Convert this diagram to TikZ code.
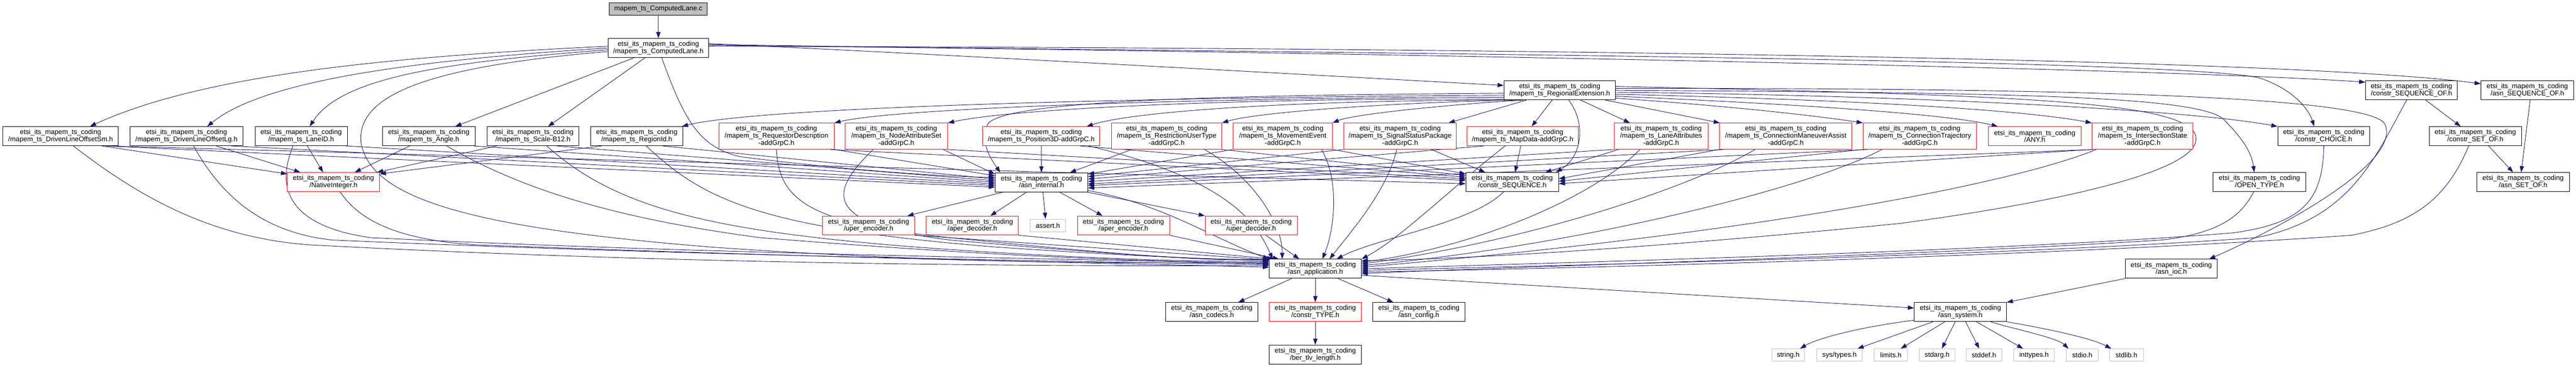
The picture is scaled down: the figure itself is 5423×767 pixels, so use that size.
\documentclass[tikz,border=0pt]{standalone}
\usepackage{fontspec}
\setmainfont{Liberation Sans}
\usetikzlibrary{arrows.meta}
\definecolor{edgec}{HTML}{191970}
\definecolor{redc}{HTML}{FF0000}
\definecolor{grayb}{HTML}{BFBFBF}
\pgfdeclarelayer{bg}
\pgfsetlayers{bg,main}
\tikzset{
  box/.style={draw=black, line width=1bp, fill=white, rectangle, inner sep=0pt, align=center,
              font=\fontsize{14.5}{15}\selectfont, text=black, minimum height=40bp},
  rbox/.style={box, draw=redc},
  gbox/.style={box, draw=grayb, minimum height=26bp},
  cbox/.style={box, fill=grayb, minimum height=26bp},
  tall/.style={minimum height=55bp},
  ed/.style={draw=edgec, line width=1bp, -{Triangle[length=13bp,width=9bp]}},
}
\begin{document}
\begin{tikzpicture}[x=1bp,y=-1bp]
\useasboundingbox (0,0) rectangle (5423,767);
% ---------- nodes ----------
\node[cbox, minimum width=206bp] (c) at (1386,19) {mapem\_ts\_ComputedLane.c};
\node[box, minimum width=212bp] (CLh) at (1386,101) {etsi\_its\_mapem\_ts\_coding\\/mapem\_ts\_ComputedLane.h};
\node[box, minimum width=235bp] (RegExt) at (3283.5,190) {etsi\_its\_mapem\_ts\_coding\\/mapem\_ts\_RegionalExtension.h};
\node[box, minimum width=193bp] (cSeqOf) at (5076.5,190) {etsi\_its\_mapem\_ts\_coding\\/constr\_SEQUENCE\_OF.h};
\node[box, minimum width=195bp] (aSeqOf) at (5320.5,190) {etsi\_its\_mapem\_ts\_coding\\/asn\_SEQUENCE\_OF.h};
% row 4
\node[box, minimum width=243bp] (DLOSm) at (127.5,286.5) {etsi\_its\_mapem\_ts\_coding\\/mapem\_ts\_DrivenLineOffsetSm.h};
\node[box, minimum width=237bp] (DLOLg) at (392.5,286.5) {etsi\_its\_mapem\_ts\_coding\\/mapem\_ts\_DrivenLineOffsetLg.h};
\node[box, minimum width=194bp] (LaneID) at (634,286.5) {etsi\_its\_mapem\_ts\_coding\\/mapem\_ts\_LaneID.h};
\node[box, minimum width=195bp] (Angle) at (902.5,286.5) {etsi\_its\_mapem\_ts\_coding\\/mapem\_ts\_Angle.h};
\node[box, minimum width=194bp] (ScaleB12) at (1122,286.5) {etsi\_its\_mapem\_ts\_coding\\/mapem\_ts\_Scale-B12.h};
\node[box, minimum width=195bp] (RegionId) at (1340.5,286.5) {etsi\_its\_mapem\_ts\_coding\\/mapem\_ts\_RegionId.h};
\node[rbox, tall, minimum width=243bp] (ReqDesc) at (1634.5,286.5) {etsi\_its\_mapem\_ts\_coding\\/mapem\_ts\_RequestorDescription\\-addGrpC.h};
\node[rbox, tall, minimum width=216bp] (NodeAttr) at (1887,286.5) {etsi\_its\_mapem\_ts\_coding\\/mapem\_ts\_NodeAttributeSet\\-addGrpC.h};
\node[rbox, minimum width=246bp] (Pos3D) at (2192,286.5) {etsi\_its\_mapem\_ts\_coding\\/mapem\_ts\_Position3D-addGrpC.h};
\node[rbox, tall, minimum width=232bp] (RestrUser) at (2456,286.5) {etsi\_its\_mapem\_ts\_coding\\/mapem\_ts\_RestrictionUserType\\-addGrpC.h};
\node[rbox, tall, minimum width=209bp] (MovEvent) at (2700.5,286.5) {etsi\_its\_mapem\_ts\_coding\\/mapem\_ts\_MovementEvent\\-addGrpC.h};
\node[rbox, tall, minimum width=237bp] (SigStatus) at (2947.5,286.5) {etsi\_its\_mapem\_ts\_coding\\/mapem\_ts\_SignalStatusPackage\\-addGrpC.h};
\node[rbox, minimum width=235bp] (MapData) at (3205.5,286.5) {etsi\_its\_mapem\_ts\_coding\\/mapem\_ts\_MapData-addGrpC.h};
\node[rbox, tall, minimum width=198bp] (LaneAttr) at (3497,286.5) {etsi\_its\_mapem\_ts\_coding\\/mapem\_ts\_LaneAttributes\\-addGrpC.h};
\node[rbox, tall, minimum width=279bp] (ConnMan) at (3759.5,286.5) {etsi\_its\_mapem\_ts\_coding\\/mapem\_ts\_ConnectionManeuverAssist\\-addGrpC.h};
\node[rbox, tall, minimum width=239bp] (ConnTraj) at (4041.5,286.5) {etsi\_its\_mapem\_ts\_coding\\/mapem\_ts\_ConnectionTrajectory\\-addGrpC.h};
\node[rbox, minimum width=195bp] (ANY) at (4283.5,286.5) {etsi\_its\_mapem\_ts\_coding\\/ANY.h};
\node[rbox, tall, minimum width=213bp] (IntState) at (4510.5,286.5) {etsi\_its\_mapem\_ts\_coding\\/mapem\_ts\_IntersectionState\\-addGrpC.h};
\node[box, minimum width=194bp] (cChoice) at (4892,286.5) {etsi\_its\_mapem\_ts\_coding\\/constr\_CHOICE.h};
\node[box, minimum width=194bp] (cSetOf) at (5211,286.5) {etsi\_its\_mapem\_ts\_coding\\/constr\_SET\_OF.h};
% row 5
\node[rbox, minimum width=194bp] (NatInt) at (702,383) {etsi\_its\_mapem\_ts\_coding\\/NativeInteger.h};
\node[box, minimum width=195bp] (asnInt) at (2192.5,383.5) {etsi\_its\_mapem\_ts\_coding\\/asn\_internal.h};
\node[box, minimum width=195bp] (cSeq) at (3183.5,383) {etsi\_its\_mapem\_ts\_coding\\/constr\_SEQUENCE.h};
\node[box, minimum width=195bp] (OpenType) at (4756.5,383) {etsi\_its\_mapem\_ts\_coding\\/OPEN\_TYPE.h};
\node[box, minimum width=195bp] (asnSetOf) at (5311.5,383) {etsi\_its\_mapem\_ts\_coding\\/asn\_SET\_OF.h};
% row 6
\node[rbox, minimum width=195bp] (uperEnc) at (1828.5,474.5) {etsi\_its\_mapem\_ts\_coding\\/uper\_encoder.h};
\node[rbox, minimum width=194bp] (aperDec) at (2047,474.5) {etsi\_its\_mapem\_ts\_coding\\/aper\_decoder.h};
\node[gbox, minimum width=74bp, minimum height=27bp] (assert) at (2206,474.5) {assert.h};
\node[rbox, minimum width=194bp] (aperEnc) at (2365,474.5) {etsi\_its\_mapem\_ts\_coding\\/aper\_encoder.h};
\node[rbox, minimum width=194bp] (uperDec) at (2634,474.5) {etsi\_its\_mapem\_ts\_coding\\/uper\_decoder.h};
% row 7
\node[box, minimum width=194bp] (asnApp) at (2769,565.5) {etsi\_its\_mapem\_ts\_coding\\/asn\_application.h};
\node[box, minimum width=194bp] (asnIoc) at (4571,565.5) {etsi\_its\_mapem\_ts\_coding\\/asn\_ioc.h};
% row 8
\node[box, minimum width=194bp] (asnCodecs) at (2551,656.5) {etsi\_its\_mapem\_ts\_coding\\/asn\_codecs.h};
\node[rbox, minimum width=194bp] (cType) at (2769,656.5) {etsi\_its\_mapem\_ts\_coding\\/constr\_TYPE.h};
\node[box, minimum width=194bp] (asnConfig) at (2987,656.5) {etsi\_its\_mapem\_ts\_coding\\/asn\_config.h};
\node[box, minimum width=194bp] (asnSystem) at (4127,656.5) {etsi\_its\_mapem\_ts\_coding\\/asn\_system.h};
% row 9
\node[box, minimum width=194bp] (berTlv) at (2769,746) {etsi\_its\_mapem\_ts\_coding\\/ber\_tlv\_length.h};
\node[gbox, minimum width=69bp] (string) at (3764.5,747) {string.h};
\node[gbox, minimum width=95bp] (systypes) at (3872.5,747) {sys/types.h};
\node[gbox, minimum width=71bp] (limits) at (3980.5,747) {limits.h};
\node[gbox, minimum width=74bp] (stdarg) at (4078,747) {stdarg.h};
\node[gbox, minimum width=75bp] (stddef) at (4176.5,747) {stddef.h};
\node[gbox, minimum width=86bp] (inttypes) at (4282,747) {inttypes.h};
\node[gbox, minimum width=67bp] (stdio) at (4383.5,747) {stdio.h};
\node[gbox, minimum width=71bp] (stdlib) at (4476.5,747) {stdlib.h};
% ---------- edges ----------
\begin{pgfonlayer}{bg}
\draw[ed] (c) -- (CLh);
% ComputedLane.h
\draw[ed] (CLh.178) .. controls (800,120) and (420,160) .. ([xshift=62]DLOSm.north);
\draw[ed] (CLh.180) .. controls (900,125) and (560,165) .. ([xshift=44]DLOLg.north);
\draw[ed] (CLh.182) .. controls (950,130) and (720,160) .. ([xshift=18]LaneID.north);
\draw[ed] (CLh.184) .. controls (900,140) and (750,200) .. (760,300) .. controls (780,420) and (1000,480) .. (1500,520) .. controls (2000,555) and (2400,555) .. (asnApp.172);
\draw[ed] ([xshift=-51]CLh.south) -- ([xshift=56]Angle.north);
\draw[ed] ([xshift=-28]CLh.south) -- ([xshift=32]ScaleB12.north);
\draw[ed] ([xshift=7]CLh.south) .. controls (1440,250) and (1470,310) .. (1560,330) .. controls (1800,360) and (2000,372) .. (asnInt.174);
\draw[ed] (CLh.5) .. controls (2000,115) and (2800,160) .. (RegExt.175);
\draw[ed] (CLh.3) .. controls (2500,105) and (4500,140) .. (cSeqOf.170);
\draw[ed] (CLh.2) .. controls (3000,100) and (4800,120) .. (aSeqOf.172);
\draw[ed] (CLh.4) .. controls (2500,110) and (4600,120) .. (4760,165) .. controls (4830,190) and (4860,230) .. ([xshift=-20]cChoice.north);
% RegionalExtension.h
\draw[ed] (RegExt.185) .. controls (2400,205) and (1600,225) .. ([xshift=-3]RegionId.north east);
\draw[ed] (RegExt.187) .. controls (2600,205) and (1900,225) .. (ReqDesc.north east);
\draw[ed] (RegExt.189) .. controls (2700,205) and (2150,225) .. (NodeAttr.north east);
\draw[ed] (RegExt.191) .. controls (2800,210) and (2400,230) .. ([xshift=96]Pos3D.north);
\draw[ed] (RegExt.193) .. controls (2950,215) and (2650,235) .. (RestrUser.north east);
\draw[ed] (RegExt.195) .. controls (3050,220) and (2850,240) .. (MovEvent.north east);
\draw[ed] (RegExt.183) .. controls (2600,200) and (2120,210) .. (2080,260) .. controls (2060,300) and (2090,340) .. ([xshift=-87]asnInt.north);
\draw[ed] ([xshift=-70]RegExt.south) -- ([xshift=-17]SigStatus.north east);
\draw[ed] ([xshift=-16]RegExt.south) -- ([xshift=19]MapData.north);
\draw[ed] ([xshift=19]RegExt.south) .. controls (3340,260) and (3330,330) .. ([xshift=-6]cSeq.north east);
\draw[ed] ([xshift=44]RegExt.south) -- ([xshift=-66]LaneAttr.north);
\draw[ed] ([xshift=96]RegExt.south) -- ([xshift=1]ConnMan.north west);
\draw[ed] (RegExt.352) .. controls (3600,220) and (3800,240) .. (ConnTraj.north west);
\draw[ed] (RegExt.354) .. controls (3800,220) and (4100,240) .. ([xshift=-78]ANY.north);
\draw[ed] (RegExt.356) .. controls (3900,210) and (4250,230) .. (IntState.north west);
\draw[ed] (RegExt.358) .. controls (4000,200) and (4600,230) .. (cChoice.north west);
\draw[ed] (RegExt.0) .. controls (4200,195) and (4620,200) .. (4680,250) .. controls (4720,290) and (4740,320) .. ([xshift=-11]OpenType.north);
\draw[ed] (RegExt.2) .. controls (4300,185) and (4980,200) .. (5020,260) .. controls (5060,340) and (4800,480) .. ([xshift=80]asnIoc.north);
\draw[ed] (RegExt.4) .. controls (4200,200) and (4580,210) .. (4620,280) .. controls (4660,360) and (4300,430) .. (4000,470) .. controls (3500,520) and (3100,545) .. (asnApp.10);
% left group -> NativeInteger
\draw[ed] ([xshift=87]DLOSm.south) -- (NatInt.170);
\draw[ed] ([xshift=63]DLOLg.south) -- ([xshift=-70]NatInt.north);
\draw[ed] ([xshift=13]LaneID.south) -- ([xshift=-22]NatInt.north);
\draw[ed] ([xshift=-40]Angle.south) -- ([xshift=45]NatInt.north);
\draw[ed] ([xshift=-76]ScaleB12.south) -- ([xshift=-6]NatInt.north east);
\draw[ed] ([xshift=-74]RegionId.south) -- (NatInt.10);
% left group -> asn_application
\draw[ed] ([xshift=27]DLOSm.south) .. controls (300,420) and (450,500) .. (650,515) .. controls (1500,560) and (2300,560) .. (asnApp.176);
\draw[ed] ([xshift=15]DLOLg.south) .. controls (470,420) and (560,490) .. (700,505) .. controls (1500,540) and (2300,550) .. (asnApp.175);
\draw[ed] ([xshift=-17]LaneID.south) .. controls (570,420) and (640,480) .. (780,500) .. controls (1500,535) and (2300,545) .. (asnApp.174);
\draw[ed] ([xshift=38]Angle.south) .. controls (1100,400) and (1300,460) .. (1600,500) .. controls (2100,540) and (2400,550) .. (asnApp.173);
\draw[ed] ([xshift=29]ScaleB12.south) .. controls (1300,440) and (1500,490) .. (2000,525) .. controls (2300,545) and (2500,550) .. (asnApp.171);
\draw[ed] ([xshift=20]RegionId.south) .. controls (1480,420) and (1600,480) .. (2100,520) .. controls (2400,540) and (2550,545) .. (asnApp.170);
\draw[ed] ([xshift=14]NatInt.south) .. controls (760,470) and (850,505) .. (1000,515) .. controls (1800,545) and (2400,555) .. (asnApp.178);
% left group -> asn_internal / constr_SEQUENCE
\draw[ed] ([xshift=95]DLOSm.south) -- (asnInt.186);
\draw[ed] ([xshift=100]DLOSm.south) -- (cSeq.182);
\draw[ed] ([xshift=95]DLOLg.south) -- (asnInt.184);
\draw[ed] ([xshift=95]LaneID.south) -- (asnInt.182);
\draw[ed] ([xshift=95]Angle.south) -- (asnInt.180);
\draw[ed] ([xshift=50]ScaleB12.south) -- (asnInt.178);
\draw[ed] ([xshift=55]RegionId.south) -- (asnInt.176);
% red group
\draw[ed] (ReqDesc.south east) -- (asnInt.172);
\draw[ed] ([xshift=-10]ReqDesc.south east) -- (cSeq.178);
\draw[ed] (ReqDesc.south) .. controls (1640,420) and (1700,470) .. (2000,500) .. controls (2400,540) and (2550,550) .. (asnApp.168);
\draw[ed] ([xshift=-10]NodeAttr.south east) -- (asnInt.170);
\draw[ed] (NodeAttr.south east) -- (cSeq.176);
\draw[ed] ([xshift=-49]NodeAttr.south) .. controls (1750,400) and (1720,470) .. (2000,505) .. controls (2400,540) and (2550,548) .. (asnApp.166);
\draw[ed] (Pos3D.south) -- (asnInt.north);
\draw[ed] ([xshift=82]Pos3D.south) -- (cSeq.174);
\draw[ed] ([xshift=100]Pos3D.south) .. controls (2600,380) and (2650,480) .. ([xshift=-90]asnApp.north);
\draw[ed] ([xshift=-74]RestrUser.south) -- ([xshift=60]asnInt.north);
\draw[ed] (RestrUser.south east) -- (cSeq.172);
\draw[ed] ([xshift=80]RestrUser.south) .. controls (2650,380) and (2700,480) .. ([xshift=-70]asnApp.north);
\draw[ed] (MovEvent.south west) -- (asnInt.10);
\draw[ed] (MovEvent.south east) -- (cSeq.170);
\draw[ed] ([xshift=82]MovEvent.south) .. controls (2820,380) and (2810,480) .. ([xshift=15]asnApp.north);
\draw[ed] (SigStatus.south west) -- (asnInt.7);
\draw[ed] ([xshift=66]SigStatus.south) -- ([xshift=-57]cSeq.north);
\draw[ed] ([xshift=-7]SigStatus.south) .. controls (2920,400) and (2850,480) .. ([xshift=30]asnApp.north);
\draw[ed] ([xshift=-82]MapData.south) -- (asnInt.4);
\draw[ed] ([xshift=-4]MapData.south) -- ([xshift=6]cSeq.north);
\draw[ed] ([xshift=-37]MapData.south) .. controls (3050,400) and (2950,500) .. (asnApp.north east);
\draw[ed] (LaneAttr.south west) -- (asnInt.1);
\draw[ed] ([xshift=-90]LaneAttr.south) -- ([xshift=70]cSeq.north);
\draw[ed] ([xshift=-45]LaneAttr.south) .. controls (3350,420) and (3100,520) .. (asnApp.8);
\draw[ed] ([xshift=10]ConnMan.south west) -- (asnInt.-2);
\draw[ed] (ConnMan.south west) -- (cSeq.4);
\draw[ed] ([xshift=-65]ConnMan.south) .. controls (3550,400) and (3200,510) .. (asnApp.6);
\draw[ed] ([xshift=10]ConnTraj.south west) -- (asnInt.-4);
\draw[ed] (ConnTraj.south west) -- (cSeq.1);
\draw[ed] ([xshift=-80]ConnTraj.south) .. controls (3800,400) and (3300,520) .. (asnApp.4);
\draw[ed] ([xshift=5]IntState.south west) -- (asnInt.-7);
\draw[ed] (IntState.south west) -- (cSeq.-2);
\draw[ed] ([xshift=10]IntState.south west) .. controls (4200,400) and (3600,500) .. (asnApp.2);
% right group
\draw[ed] (cChoice.south) .. controls (4890,420) and (4850,470) .. (4700,490) .. controls (4200,530) and (3200,555) .. (asnApp.0);
\draw[ed] ([xshift=-10]cSeqOf.south) .. controls (5000,330) and (4950,460) .. (4750,500) .. controls (4200,540) and (3200,560) .. (asnApp.-2);
\draw[ed] ([xshift=30]cSeqOf.south) -- ([xshift=-31]cSetOf.north);
\draw[ed] ([xshift=28]cSetOf.south) -- ([xshift=-21]asnSetOf.north);
\draw[ed] ([xshift=-14]cSetOf.south) .. controls (5150,420) and (5080,470) .. (4950,495) .. controls (4300,540) and (3300,565) .. (asnApp.-4);
\draw[ed] ([xshift=6]aSeqOf.south) -- ([xshift=-4]asnSetOf.north);
\draw[ed] ([xshift=-12]OpenType.south) .. controls (4720,450) and (4680,490) .. (4550,505) .. controls (4000,540) and (3200,560) .. (asnApp.-6);
% asn_internal
\draw[ed] ([xshift=-80]asnInt.south) -- ([xshift=82]uperEnc.north);
\draw[ed] ([xshift=-31]asnInt.south) -- ([xshift=38]aperDec.north);
\draw[ed] ([xshift=3]asnInt.south) -- ([xshift=-5]assert.north);
\draw[ed] ([xshift=38]asnInt.south) -- ([xshift=-44]aperEnc.north);
\draw[ed] ([xshift=-3]asnInt.south east) -- (uperDec.north west);
\draw[ed] (asnInt.-10) .. controls (2450,430) and (2550,500) .. (asnApp.north west);
\draw[ed] (uperEnc.south east) -- (asnApp.169);
\draw[ed] (aperDec.south east) -- (asnApp.167);
\draw[ed] (aperEnc.south east) -- (asnApp.165);
\draw[ed] ([xshift=31]uperDec.south) -- ([xshift=-34]asnApp.north);
\draw[ed] ([xshift=-18]cSeq.south) .. controls (3100,470) and (2900,500) .. ([xshift=45]asnApp.north);
% asn_application and below
\draw[ed] ([xshift=-50]asnApp.south) -- ([xshift=56]asnCodecs.north);
\draw[ed] (asnApp.south) -- (cType.north);
\draw[ed] ([xshift=48]asnApp.south) -- ([xshift=-54]asnConfig.north);
\draw[ed] (asnApp.-8) -- (asnSystem.175);
\draw[ed] (cType.south) -- (berTlv.north);
\draw[ed] (asnIoc.south west) -- (asnSystem.north east);
\draw[ed] (asnSystem.190) .. controls (3900,690) and (3820,715) .. ([xshift=25]string.north);
\draw[ed] ([xshift=-58]asnSystem.south) -- ([xshift=38]systypes.north);
\draw[ed] ([xshift=-33]asnSystem.south) -- ([xshift=21]limits.north);
\draw[ed] ([xshift=-11]asnSystem.south) -- ([xshift=10]stdarg.north);
\draw[ed] ([xshift=11]asnSystem.south) -- ([xshift=-10]stddef.north);
\draw[ed] ([xshift=34]asnSystem.south) -- ([xshift=-23]inttypes.north);
\draw[ed] ([xshift=64]asnSystem.south) .. controls (4230,690) and (4330,710) .. ([xshift=-29]stdio.north);
\draw[ed] (asnSystem.south east) .. controls (4300,690) and (4400,710) .. ([xshift=-32]stdlib.north);
\end{pgfonlayer}
\end{tikzpicture}
\end{document}
